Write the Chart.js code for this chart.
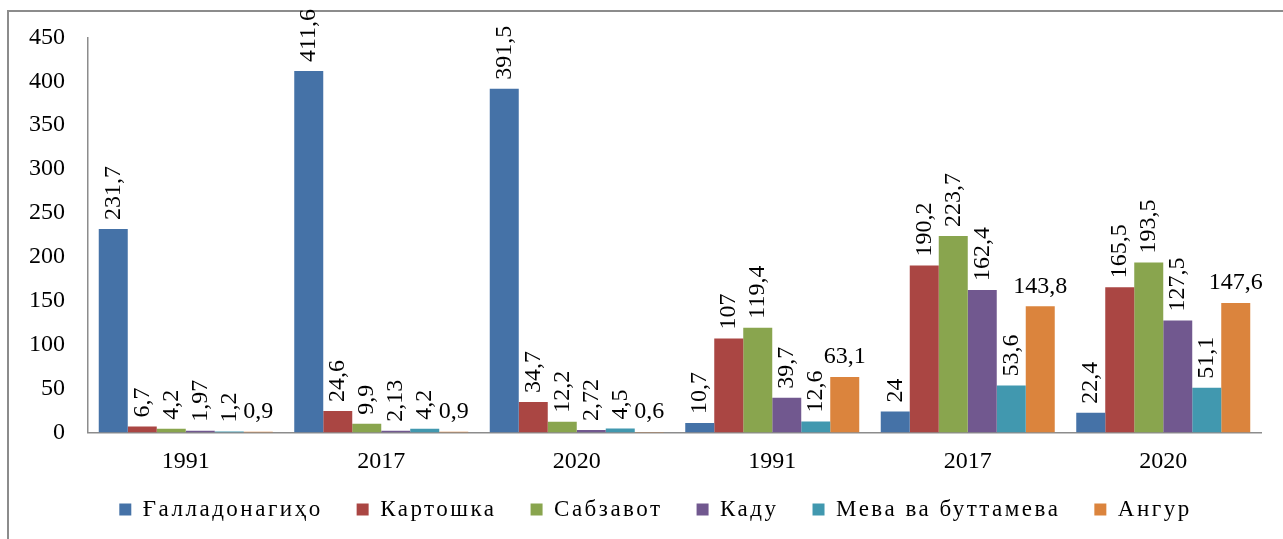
<!DOCTYPE html>
<html>
<head>
<meta charset="utf-8">
<script src="https://cdn.jsdelivr.net/npm/chart.js@4/dist/chart.umd.min.js"></script>
<style>
  html, body { margin: 0; padding: 0; background: #fff; }
  #wrap { width: 1283px; height: 539px; }
</style>
</head>
<body>
<div id="wrap"><canvas id="chart" width="1283" height="539"></canvas></div>
<script>
/* ============================= */
/*            DATA               */
/* ============================= */
const categories = ['1991', '2017', '2020', '1991', '2017', '2020'];
const seriesNames = ['Ғалладонагиҳо', 'Картошка', 'Сабзавот', 'Каду', 'Мева ва буттамева', 'Ангур'];
const grain = [231.7, 411.6, 391.5, 10.7, 24, 22.4];
const potato = [6.7, 24.6, 34.7, 107, 190.2, 165.5];
const vegetables = [4.2, 9.9, 12.2, 119.4, 223.7, 193.5];
const melons = [1.97, 2.13, 2.72, 39.7, 162.4, 127.5];
const fruits = [1.2, 4.2, 4.5, 12.6, 53.6, 51.1];
const grapes = [0.9, 0.9, 0.6, 63.1, 143.8, 147.6];
const yTicks = [0, 50, 100, 150, 200, 250, 300, 350, 400, 450];

const colors = ['#4572A7', '#AA4643', '#89A54E', '#71588F', '#4198AF', '#DB843D'];
const FONT = 'Liberation Serif, Times New Roman, serif';
const LEGEND_SPACING = '2.5px';

/* ============================= */
/*   FRAME + VALUE LABELS        */
/* ============================= */
const frame = {
    id: 'frame',
    beforeLayout(chart) { chart.ctx.letterSpacing = LEGEND_SPACING; },
    afterLayout(chart) {
        chart.ctx.letterSpacing = '0px';
        // pull the legend up under the year labels, nudge right
        const lg = chart.legend;
        lg.top -= 18.5;
        lg.bottom -= 18.5;
        lg.left += 25;
        lg.right += 25;
    },
    beforeDraw(chart) {
        const ctx = chart.ctx;
        ctx.save();
        ctx.strokeStyle = '#8c8c8c';
        ctx.lineWidth = 2;
        ctx.strokeRect(8, 11, 1300, 600);
        ctx.restore();
        ctx.letterSpacing = LEGEND_SPACING; // legend text is spaced out
    },
    beforeDatasetsDraw(chart) { chart.ctx.letterSpacing = '0px'; },
    afterDatasetsDraw(chart) {
        const ctx = chart.ctx;
        ctx.save();
        ctx.fillStyle = '#000';
        ctx.font = '24px ' + FONT;
        chart.data.datasets.forEach((ds, di) => {
            const meta = chart.getDatasetMeta(di);
            meta.data.forEach((bar, i) => {
                const txt = String(ds.data[i]).replace('.', ',');
                if (di === 5) {
                    ctx.textAlign = 'center';
                    ctx.textBaseline = 'middle';
                    ctx.fillText(txt, bar.x, bar.y - 20);
                } else {
                    ctx.save();
                    ctx.translate(bar.x, bar.y - 9);
                    ctx.rotate(-Math.PI / 2);
                    ctx.textAlign = 'left';
                    ctx.textBaseline = 'middle';
                    ctx.fillText(txt, 0, 0);
                    ctx.restore();
                }
            });
        });
        ctx.restore();
    }
};

/* ============================= */
/*            CHART              */
/* ============================= */
const allSeries = [grain, potato, vegetables, melons, fruits, grapes];

new Chart(document.getElementById('chart').getContext('2d'), {
    type: 'bar',
    data: {
        labels: categories,
        datasets: allSeries.map((vals, i) => ({
            label: seriesNames[i],
            data: vals,
            backgroundColor: colors[i],
            borderWidth: 0,
            categoryPercentage: 0.89,
            barPercentage: 1.0
        }))
    },
    options: {
        responsive: false,
        animation: false,
        layout: { padding: { top: 37, right: 22, left: 0, bottom: -10.5 } },
        plugins: {
            tooltip: { enabled: false },
            legend: {
                position: 'bottom',
                labels: {
                    color: '#000',
                    font: { family: FONT, size: 23 },
                    boxWidth: 12,
                    boxHeight: 12,
                    padding: 34
                }
            }
        },
        scales: {
            x: {
                grid: { display: false, drawTicks: false },
                border: { color: '#8c8c8c', width: 1.5 },
                ticks: {
                    z: 1,
                    color: '#000',
                    font: { family: FONT, size: 24 },
                    padding: 15,
                    maxRotation: 0,
                    autoSkip: false
                },
                afterFit(s) { s.height = 50; }
            },
            y: {
                min: 0,
                max: 450,
                grid: { display: false, drawTicks: false },
                border: { color: '#8c8c8c', width: 1.5 },
                afterBuildTicks(s) { s.ticks = yTicks.map(v => ({ value: v })); },
                ticks: {
                    z: 1,
                    color: '#000',
                    font: { family: FONT, size: 24 },
                    padding: 23
                },
                afterFit(s) { s.width = 88; }
            }
        }
    },
    plugins: [frame]
});
</script>
</body>
</html>
